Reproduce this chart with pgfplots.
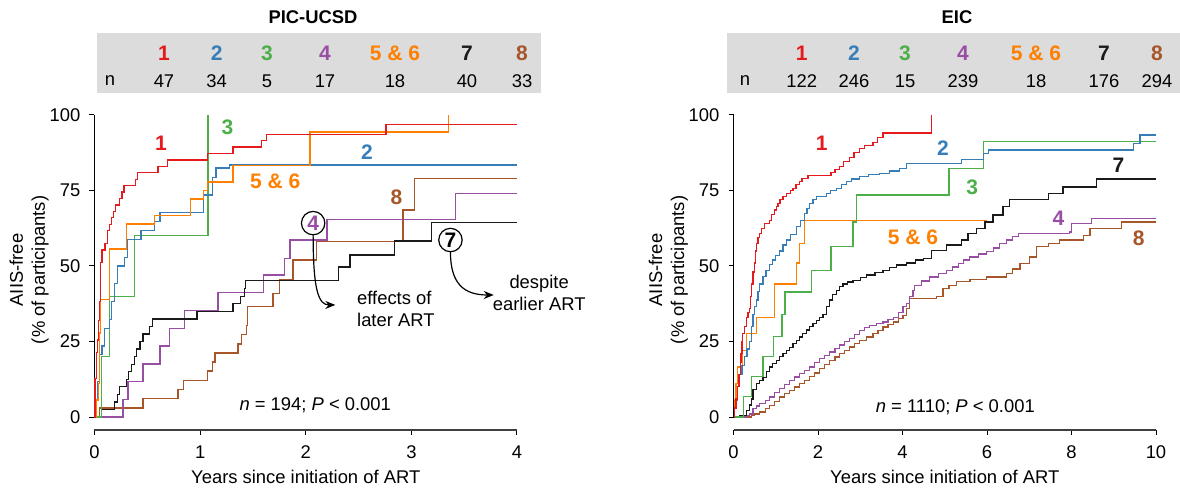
\documentclass[border=0pt]{standalone}
\usepackage{fontspec}
\setmainfont{Liberation Sans}
\usepackage{pgfplots}
\pgfplotsset{compat=1.18}
\usetikzlibrary{arrows.meta}

\definecolor{cA}{HTML}{E41A1C}
\definecolor{cB}{HTML}{377EB8}
\definecolor{cC}{HTML}{4DAF4A}
\definecolor{cD}{HTML}{984EA3}
\definecolor{cE}{HTML}{FF7F00}
\definecolor{cG}{HTML}{1A1A1A}
\definecolor{cH}{HTML}{A65628}
\definecolor{boxgray}{HTML}{DCDCDC}

\newcommand\fs{\fontsize{9.2}{11}\selectfont}
\newcommand\fb{\fontsize{10.5}{12}\selectfont\bfseries}

\pgfplotsset{
  kmaxis/.style={anchor=south west, scale only axis, width=211.25pt, height=157.5pt,
    ymin=-4.3, ymax=100, axis x line*=bottom, axis y line*=left,
    axis line style={draw=none}, tick align=outside, major tick length=2.5pt,
    tick style={black,line width=0.5pt}, ytick={0,25,50,75,100}, clip=false,
    tick label style={font=\fs}, /pgf/number format/assume math mode=true,
    xticklabel shift=2pt, yticklabel shift=1pt},
  km/.style={const plot, no marks, line width=0.65pt}
}

\begin{document}
\begin{tikzpicture}[font=\fs]
\useasboundingbox (0,0) rectangle (590pt,245.5pt);

% header tables
\fill[boxgray] (48.5pt,199pt) rectangle (270.5pt,229pt);
\node[font=\fs\bfseries] at (156.5pt,237pt) {PIC-UCSD};
\node at (55pt,205pt) {n};
\foreach \x/\t/\c/\n in {82/1/cA/47, 108.35/2/cB/34, 133.5/3/cC/5, 162.5/4/cD/17,
    197.5/{5 \& 6}/cE/18, 233.5/7/cG/40, 261/8/cH/33}{
  \node[text=\c,font=\fb] at (\x pt,219pt) {\t};
  \node at (\x pt,205pt) {\n};
}
\fill[boxgray] (363.5pt,199pt) rectangle (590pt,229pt);
\node[font=\fs\bfseries] at (478.5pt,237pt) {EIC};
\node at (372.5pt,205pt) {n};
\foreach \x/\t/\c/\n in {400.85/1/cA/122, 427/2/cB/246, 452.5/3/cC/15, 481.5/4/cD/239,
    518/{5 \& 6}/cE/18, 552/7/cG/176, 578.5/8/cH/294}{
  \node[text=\c,font=\fb] at (\x pt,219pt) {\t};
  \node at (\x pt,205pt) {\n};
}

% PIC-UCSD
\begin{axis}[kmaxis, at={(47.25pt,30.5pt)}, xmin=0, xmax=4, xtick={0,1,2,3,4}]
\draw[line width=0.6pt] (axis cs:0,0) -- (axis cs:0,100);
\draw[line width=0.6pt,black!75] (axis cs:0,-4.3) -- (axis cs:4,-4.3);

\addplot[km,cH] coordinates {(0,0) (0.047,3) (0.46,6.1) (0.79,9.1) (0.84,12.1) (1.07,15.2)
  (1.12,18.2) (1.14,21.2) (1.36,24.2) (1.39,27.3) (1.44,30.3) (1.45,36.7) (1.69,40.9)
  (1.75,45.5) (1.88,52) (2.1,58) (2.92,68.5) (3.03,79) (4,79)};
\addplot[km,cD] coordinates {(0,0) (0.27,5.9) (0.316,11.8) (0.46,17.6) (0.62,23.5)
  (0.71,29.4) (0.85,35.3) (1.17,41.2) (1.6,47) (1.8,52.5) (1.85,58.6) (2.2,65.4)
  (3.42,74) (4,74)};
\addplot[km,cG] coordinates {(0,0) (0.063,2.5) (0.19,5) (0.22,7.5) (0.24,10) (0.3,12.5)
  (0.32,15) (0.35,17.5) (0.38,20) (0.4,22.5) (0.43,25) (0.46,27.5) (0.52,30) (0.55,32.5)
  (0.97,35) (1.31,37.5) (1.38,40) (1.42,42.5) (1.43,45.3) (2.31,49.7) (2.42,53.6)
  (2.84,58.3) (3.19,64.3) (4,64.3)};
\addplot[km,cC] coordinates {(0,0) (0.063,20) (0.142,40) (0.38,60) (1.074,100)};
\addplot[km,cB] coordinates {(0,0) (0.01,5.9) (0.03,11.8) (0.047,20.6) (0.07,23.5)
  (0.095,29.4) (0.14,32.4) (0.158,38.2) (0.19,44.1) (0.22,50) (0.284,52.9) (0.31,58.8)
  (0.44,61.8) (0.57,64.7) (0.62,67.6) (1.03,73.5) (1.12,79.4) (1.15,82.4) (1.28,83.4)
  (4,83.4)};
\addplot[km,cE] coordinates {(0,0) (0.02,5.6) (0.04,11.1) (0.05,27.8) (0.06,38.9)
  (0.14,55.6) (0.3,63.9) (0.57,66.7) (0.91,72.2) (1.03,75) (1.07,77.8) (1.31,83.3)
  (2.04,94.4) (3.35,100)};
\addplot[km,cA] coordinates {(0,0) (0.005,12.8) (0.02,21.3) (0.03,25.5) (0.04,31.9)
  (0.045,38.3) (0.055,44.7) (0.06,51.1) (0.07,55.3) (0.1,57.4) (0.12,61.7) (0.14,63.8)
  (0.16,66) (0.18,68.1) (0.2,70.2) (0.24,72.3) (0.26,74.5) (0.28,76.6) (0.39,78.7)
  (0.41,80.9) (0.6,83) (0.69,85.1) (1.07,87.2) (1.31,89.4) (1.58,91.5) (1.63,93.6)
  (2.76,96.8) (4,96.8)};

\node[font=\fb,text=cA] at (axis cs:0.63,90.7) {1};
\node[font=\fb,text=cC] at (axis cs:1.26,96) {3};
\node[font=\fb,text=cE] at (axis cs:1.71,77.9) {5 \& 6};
\node[font=\fb,text=cB] at (axis cs:2.58,87.8) {2};
\node[font=\fb,text=cH] at (axis cs:2.86,72.9) {8};
\node[circle,draw,fill=white,line width=0.6pt,minimum size=11.7pt,inner sep=0pt,font=\fb,text=cD]
  at (axis cs:2.07,64.2) {4};
\draw[line width=0.6pt,-{Stealth[length=5pt,width=4pt]}] (axis cs:2.07,60.3)
  .. controls (axis cs:2.07,42) and (axis cs:2.12,37.1) .. (axis cs:2.28,37.1);
\node[align=left,anchor=west] at (axis cs:2.42,35.8) {effects of\\later ART};
\node[circle,draw,fill=white,line width=0.6pt,minimum size=11.7pt,inner sep=0pt,font=\fb]
  at (axis cs:3.37,58.6) {7};
\draw[line width=0.6pt,-{Stealth[length=5pt,width=4pt]}] (axis cs:3.37,54.7)
  .. controls (axis cs:3.37,44) and (axis cs:3.5,40.4) .. (axis cs:3.78,40.4);
\node[align=center] at (axis cs:4.21,41) {despite\\earlier ART};
\node at (axis cs:2.09,4) {\textit{n} = 194; \textit{P} < 0.001};
\node[rotate=90,align=center] at (rel axis cs:-0.155,0.508) {AIIS-free\\(\% of participants)};
\node at (rel axis cs:0.5,-0.149) {Years since initiation of ART};
\end{axis}

% EIC
\begin{axis}[kmaxis, at={(366.75pt,30.5pt)}, xmin=0, xmax=10, xtick={0,2,4,6,8,10}]
\draw[line width=0.6pt] (axis cs:0,0) -- (axis cs:0,100);
\draw[line width=0.6pt,black!75] (axis cs:0,-4.3) -- (axis cs:10,-4.3);

\addplot[km,cH] coordinates {(0,0) (0.42,0.5) (0.5,1) (0.62,1.7) (0.75,2.8) (0.85,3.9)
  (0.97,5.2) (1.09,6.6) (1.2,7.7) (1.33,8.8) (1.45,9.9) (1.56,11) (1.68,12.2) (1.8,13.3)
  (1.92,14.6) (2.04,16) (2.15,17.4) (2.27,18.8) (2.4,19.9) (2.51,21) (2.63,22.1)
  (2.75,23.2) (2.87,24.3) (2.99,25.4) (3.14,26.5) (3.3,27.6) (3.42,28.7) (3.54,29.8)
  (3.66,30.7) (3.78,31.5) (3.9,32.6) (4.01,33.7) (4.09,36) (4.17,39.2) (4.8,39.8)
  (4.96,42.5) (5.1,43.6) (5.28,44.8) (5.6,45.6) (5.99,46.4) (6.46,47.5) (6.6,49)
  (6.78,50.8) (7.01,53) (7.17,56.4) (7.45,57.5) (7.72,58.6) (8.28,60.2) (8.44,62.4)
  (9.19,64.6) (10,64.6)};
\addplot[km,cD] coordinates {(0,0) (0.3,0.5) (0.38,1) (0.46,2.8) (0.55,3.6) (0.62,4.4)
  (0.75,5.5) (0.85,6.6) (0.97,8) (1.09,9.4) (1.2,10.7) (1.33,12) (1.45,13.2) (1.56,14.4)
  (1.68,15.5) (1.8,16.6) (1.92,18) (2.04,19.3) (2.15,20.4) (2.27,21.5) (2.4,22.6)
  (2.51,23.8) (2.63,25) (2.75,26) (2.87,27.4) (2.99,28.7) (3.1,29.6) (3.22,30.4)
  (3.38,31) (3.54,31.5) (3.66,32.2) (3.78,33) (3.9,34.7) (4.01,36.5) (4.1,37.6)
  (4.17,40) (4.25,42) (4.29,43.6) (4.45,45) (4.64,46.4) (4.85,47.5) (5.04,48.6)
  (5.18,49.7) (5.32,50.8) (5.45,52) (5.59,53) (5.8,54) (5.99,54.7) (6.15,56) (6.3,57.5)
  (6.46,58.6) (6.6,59.8) (6.74,60.8) (7.96,61.3) (8.0,64) (8.47,65.7) (10,65.7)};
\addplot[km,cG] coordinates {(0,0) (0.15,0.5) (0.3,2.2) (0.38,4) (0.42,6) (0.46,9)
  (0.54,11) (0.62,12) (0.7,13) (0.78,15) (0.85,16.6) (0.93,17.7) (1.01,18.8) (1.09,20)
  (1.17,21) (1.25,22) (1.33,23) (1.41,24.3) (1.49,25.4) (1.56,26.5) (1.64,27.6)
  (1.72,28.8) (1.8,30) (1.88,31) (1.96,32) (2.04,33) (2.12,34) (2.2,36.5) (2.27,38.7)
  (2.35,40.5) (2.43,42) (2.51,43.2) (2.59,44) (2.7,44.7) (2.83,45.3) (3.0,46.2)
  (3.14,47) (3.35,47.8) (3.54,48.6) (3.7,49.4) (3.85,50.3) (4.1,51) (4.3,52) (4.49,52.5)
  (4.68,55.2) (5.04,57) (5.39,58.6) (5.55,60.8) (5.75,62.4) (5.95,64.6) (6.14,66.9)
  (6.38,69.6) (6.54,72) (7.45,74) (7.8,76.2) (8.59,78.8) (10,78.8)};
\addplot[km,cE] coordinates {(0,0) (0.02,5.6) (0.06,11) (0.1,16.6) (0.22,22) (0.3,27.6)
  (0.54,33) (0.97,44) (1.49,51) (1.56,57.5) (1.68,65) (6.0,65)};
\addplot[km,cC] coordinates {(0,0) (0.24,6.7) (0.43,13.3) (0.7,20) (0.95,26.7) (1.15,34)
  (1.22,41.4) (1.84,48.6) (2.31,56.4) (2.83,64.6) (2.91,73.5) (5.1,82.3) (5.91,91.2)
  (10,91.2)};
\addplot[km,cB] coordinates {(0,0) (0.03,3) (0.06,5.5) (0.1,10) (0.14,14) (0.2,17)
  (0.26,20) (0.32,22.5) (0.38,25) (0.42,30) (0.46,34) (0.5,36.5) (0.54,38.7) (0.58,41.5)
  (0.62,44) (0.7,46.5) (0.77,48.6) (0.85,50.5) (0.93,52) (1.0,53.5) (1.09,55) (1.17,57)
  (1.25,58.6) (1.35,60.5) (1.49,63) (1.58,65) (1.68,67.4) (1.74,69) (1.8,70.7) (1.88,72)
  (1.96,73) (2.2,74) (2.3,75) (2.43,75.7) (2.55,77) (2.67,78) (2.8,78.8) (2.99,79.6)
  (3.2,80.2) (3.46,80.7) (3.7,81.5) (3.93,82.3) (4.09,84) (5.39,85.3) (5.91,87.3)
  (6.03,88.4) (9.46,90.6) (9.62,93.4) (10,93.4)};
\addplot[km,cA] coordinates {(0,0) (0.03,3) (0.06,6) (0.1,10) (0.13,14) (0.16,18)
  (0.18,21) (0.2,25) (0.22,27.6) (0.26,30) (0.3,33) (0.34,34.5) (0.38,36) (0.4,40)
  (0.43,44) (0.46,48) (0.5,51) (0.52,55) (0.54,57.5) (0.58,59.5) (0.62,60.8) (0.67,62.5)
  (0.73,64) (0.85,65) (0.9,67) (0.97,68.5) (1.01,69.6) (1.05,70.7) (1.1,72) (1.17,73)
  (1.25,74) (1.35,75) (1.41,75.7) (1.48,77) (1.56,78) (1.62,79) (1.76,80) (2.31,81)
  (2.4,82) (2.51,83) (2.6,84.5) (2.75,86) (2.85,87.5) (2.99,89) (3.1,90) (3.3,91)
  (3.4,92.5) (3.54,94) (4.69,100)};

\node[font=\fb,text=cA] at (axis cs:2.09,90.7) {1};
\node[font=\fb,text=cB] at (axis cs:4.96,89.1) {2};
\node[font=\fb,text=cC] at (axis cs:5.65,76.2) {3};
\node[font=\fb,text=cE] at (axis cs:4.25,59.6) {5 \& 6};
\node[font=\fb,text=cG] at (axis cs:9.11,83.4) {7};
\node[font=\fb,text=cD] at (axis cs:7.69,65.9) {4};
\node[font=\fb,text=cH] at (axis cs:9.59,59.3) {8};
\node at (axis cs:5.25,3.3) {\textit{n} = 1110; \textit{P} < 0.001};
\node[rotate=90,align=center] at (rel axis cs:-0.154,0.508) {AIIS-free\\(\% of participants)};
\node at (rel axis cs:0.5,-0.149) {Years since initiation of ART};
\end{axis}
\end{tikzpicture}
\end{document}
